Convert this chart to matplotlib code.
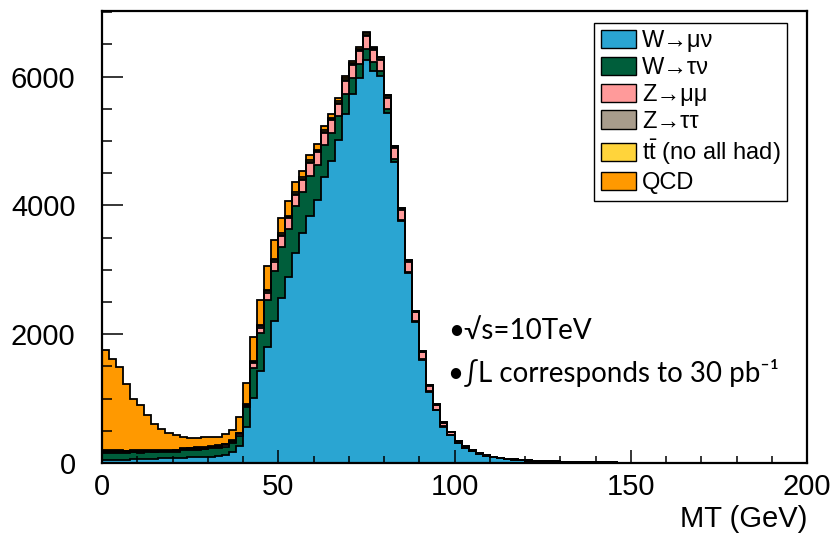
import numpy as np
import matplotlib.pyplot as plt
from matplotlib.patches import Patch
from matplotlib.ticker import MultipleLocator

### MT histogram, 2 GeV bins from 0 to 200
edges = np.arange(0, 202, 2)

wmunu = [50, 50, 52, 52, 55, 55, 58, 65, 70, 72, 75, 85, 88, 90, 92, 98, 105, 125, 175, 260,
         565, 1015, 1430, 1808, 2207, 2570, 2896, 3269, 3570, 3840, 4088, 4435, 4695, 5020, 5425,
         5731, 5979, 6264, 6094, 6005, 5436, 4674, 3751, 2949, 2197, 1601, 1108,
         824, 565, 435, 306, 230, 180, 145, 112, 90, 72, 62, 52, 44,
         38, 33, 29, 25, 22, 19, 17, 15, 13, 11, 10, 9, 8, 7, 6, 5, 5, 4, 4, 3,
         3, 3, 2, 2, 2, 2, 1, 1, 1, 1, 1, 1, 1, 0, 0, 0, 0, 0, 0, 0]
wtaunu = [110, 112, 110, 108, 110, 108, 110, 100, 98, 96, 95, 112, 114, 116, 118, 128, 132, 130, 130, 165,
          301, 457, 586, 726, 782, 783, 741, 715, 632, 611, 544, 497, 430, 363, 306,
          249, 218, 171, 128, 78, 62, 52, 26, 15, 10, 8, 6,
          5, 4, 3, 3, 2, 2, 1, 1, 1, 1, 1, 1, 0,
          0, 0, 0, 0, 0, 0, 0, 0, 0, 0, 0, 0, 0, 0, 0, 0, 0, 0, 0, 0,
          0, 0, 0, 0, 0, 0, 0, 0, 0, 0, 0, 0, 0, 0, 0, 0, 0, 0, 0, 0]
zmumu = [12, 12, 12, 12, 12, 12, 12, 12, 12, 13, 13, 13, 14, 14, 15, 15, 16, 18, 20, 22,
         25, 78, 88, 113, 140, 176, 167, 182, 197, 208, 192, 193, 196, 198, 207,
         196, 197, 192, 187, 181, 171, 166, 156, 162, 135, 109, 88,
         70, 55, 40, 30, 22, 15, 10, 8, 5, 4, 3, 3, 2,
         2, 2, 1, 1, 1, 1, 1, 0, 0, 0, 0, 0, 0, 0, 0, 0, 0, 0, 0, 0,
         0, 0, 0, 0, 0, 0, 0, 0, 0, 0, 0, 0, 0, 0, 0, 0, 0, 0, 0, 0]
ztautau = [20, 18, 16, 15, 14, 13, 12, 12, 12, 12, 12, 12, 13, 13, 14, 14, 15, 16, 16, 16,
           15, 16, 18, 18, 18, 18, 18, 18, 18, 18, 18, 18, 18, 18, 18,
           18, 17, 16, 15, 15, 14, 12, 10, 8, 7, 6, 5,
           4, 3, 2, 2, 2, 1, 1, 1, 1, 0, 0, 0, 0,
           0, 0, 0, 0, 0, 0, 0, 0, 0, 0, 0, 0, 0, 0, 0, 0, 0, 0, 0, 0,
           0, 0, 0, 0, 0, 0, 0, 0, 0, 0, 0, 0, 0, 0, 0, 0, 0, 0, 0, 0]
ttbar = [6, 6, 6, 6, 7, 7, 7, 7, 7, 8, 8, 8, 8, 8, 9, 9, 9, 9, 10, 10,
         12, 14, 16, 16, 17, 18, 18, 20, 20, 22, 22, 22, 24, 24, 24,
         26, 26, 28, 28, 26, 25, 22, 20, 16, 14, 12, 10,
         8, 7, 6, 5, 4, 3, 3, 2, 1, 1, 1, 1, 1,
         1, 1, 1, 1, 1, 1, 1, 1, 1, 1, 0, 0, 0, 0, 0, 0, 0, 0, 0, 0,
         0, 0, 0, 0, 0, 0, 0, 0, 0, 0, 0, 0, 0, 0, 0, 0, 0, 0, 0, 0]
qcd = [1559, 1419, 1291, 1035, 802, 707, 547, 410, 325, 260, 232, 179, 146, 142, 156, 135, 122, 148, 162, 237,
       321, 384, 396, 371, 302, 239, 233, 153, 92, 89, 95, 74, 62, 46, 36,
       29, 19, 18, 10, 5, 3, 3, 2, 1, 1, 1, 1,
       1, 1, 1, 1, 1, 0, 0, 0, 0, 0, 0, 0, 0,
       0, 0, 0, 0, 0, 0, 0, 0, 0, 0, 0, 0, 0, 0, 0, 0, 0, 0, 0, 0,
       0, 0, 0, 0, 0, 0, 0, 0, 0, 0, 0, 0, 0, 0, 0, 0, 0, 0, 0, 0]

labels = ["W\u2192\u03bc\u03bd", "W\u2192\u03c4\u03bd", "Z\u2192\u03bc\u03bc", "Z\u2192\u03c4\u03c4",
          r"t$\bar{\mathrm{t}}$ (no all had)", "QCD"]
colors = ["#2aa5d2", "#005e3b", "#ff9a9a", "#a89c8c", "#ffd43b", "#ff9900"]

plt.rcParams['font.family'] = ['Liberation Sans', 'DejaVu Sans']
plt.rcParams['mathtext.fontset'] = 'custom'
plt.rcParams['mathtext.rm'] = 'Liberation Sans'

fig = plt.figure(figsize=(8.32, 5.37), dpi=100)
ax = fig.add_axes([0.1226, 0.1378, 0.8474, 0.8417])

### stacked fills, then black outlines of each cumulative histogram
layers = [wmunu, wtaunu, zmumu, ztautau, ttbar, qcd]
base = np.zeros(len(edges) - 1)
tops = []
for vals, col in zip(layers, colors):
    top = base + np.array(vals, dtype=float)
    ax.stairs(top, edges, baseline=base, fill=True, color=col, lw=0)
    tops.append(top)
    base = top
for top in tops:
    ax.stairs(top, edges, baseline=None, color="black", lw=1.3)

ax.set_xlim(0, 200)
ax.set_ylim(0, 7020)
ax.xaxis.set_major_locator(MultipleLocator(50))
ax.xaxis.set_minor_locator(MultipleLocator(10))
ax.yaxis.set_major_locator(MultipleLocator(2000))
ax.yaxis.set_minor_locator(MultipleLocator(500))
ax.tick_params(which='both', direction='in', top=False, right=False)
ax.tick_params(axis='x', which='major', length=9.5, width=1.1, pad=7, labelsize=21)
ax.tick_params(axis='x', which='minor', length=5, width=1.1)
ax.tick_params(axis='y', which='major', length=15, width=1.1, pad=19, labelsize=21)
ax.tick_params(axis='y', which='minor', length=7.5, width=1.1)
for sp in ax.spines.values():
    sp.set_linewidth(1.6)

ax.set_xlabel("MT (GeV)", loc='right', fontsize=21, labelpad=3)

handles = [Patch(facecolor=c, edgecolor="black", lw=1) for c in colors]
leg = ax.legend(handles, labels, loc='upper right', bbox_to_anchor=(0.9716, 0.9735),
                borderaxespad=0, fontsize=17, frameon=True, fancybox=False,
                edgecolor="black", framealpha=1, handlelength=1.5, handleheight=0.8,
                handletextpad=0.25, labelspacing=0.2, borderpad=0.28)
leg.get_frame().set_linewidth(1.0)

ann_font = ['Lato', 'DejaVu Sans']
ax.text(0.491, 0.292, "\u2022\u221as=10TeV", transform=ax.transAxes, ha='left', va='center',
        fontsize=20, family=ann_font)
ax.text(0.491, 0.199, "\u2022\u222bL corresponds to 30 pb\u207b\u00b9", transform=ax.transAxes,
        ha='left', va='center', fontsize=20, family=ann_font)

fig.savefig("out.png", dpi=100)
